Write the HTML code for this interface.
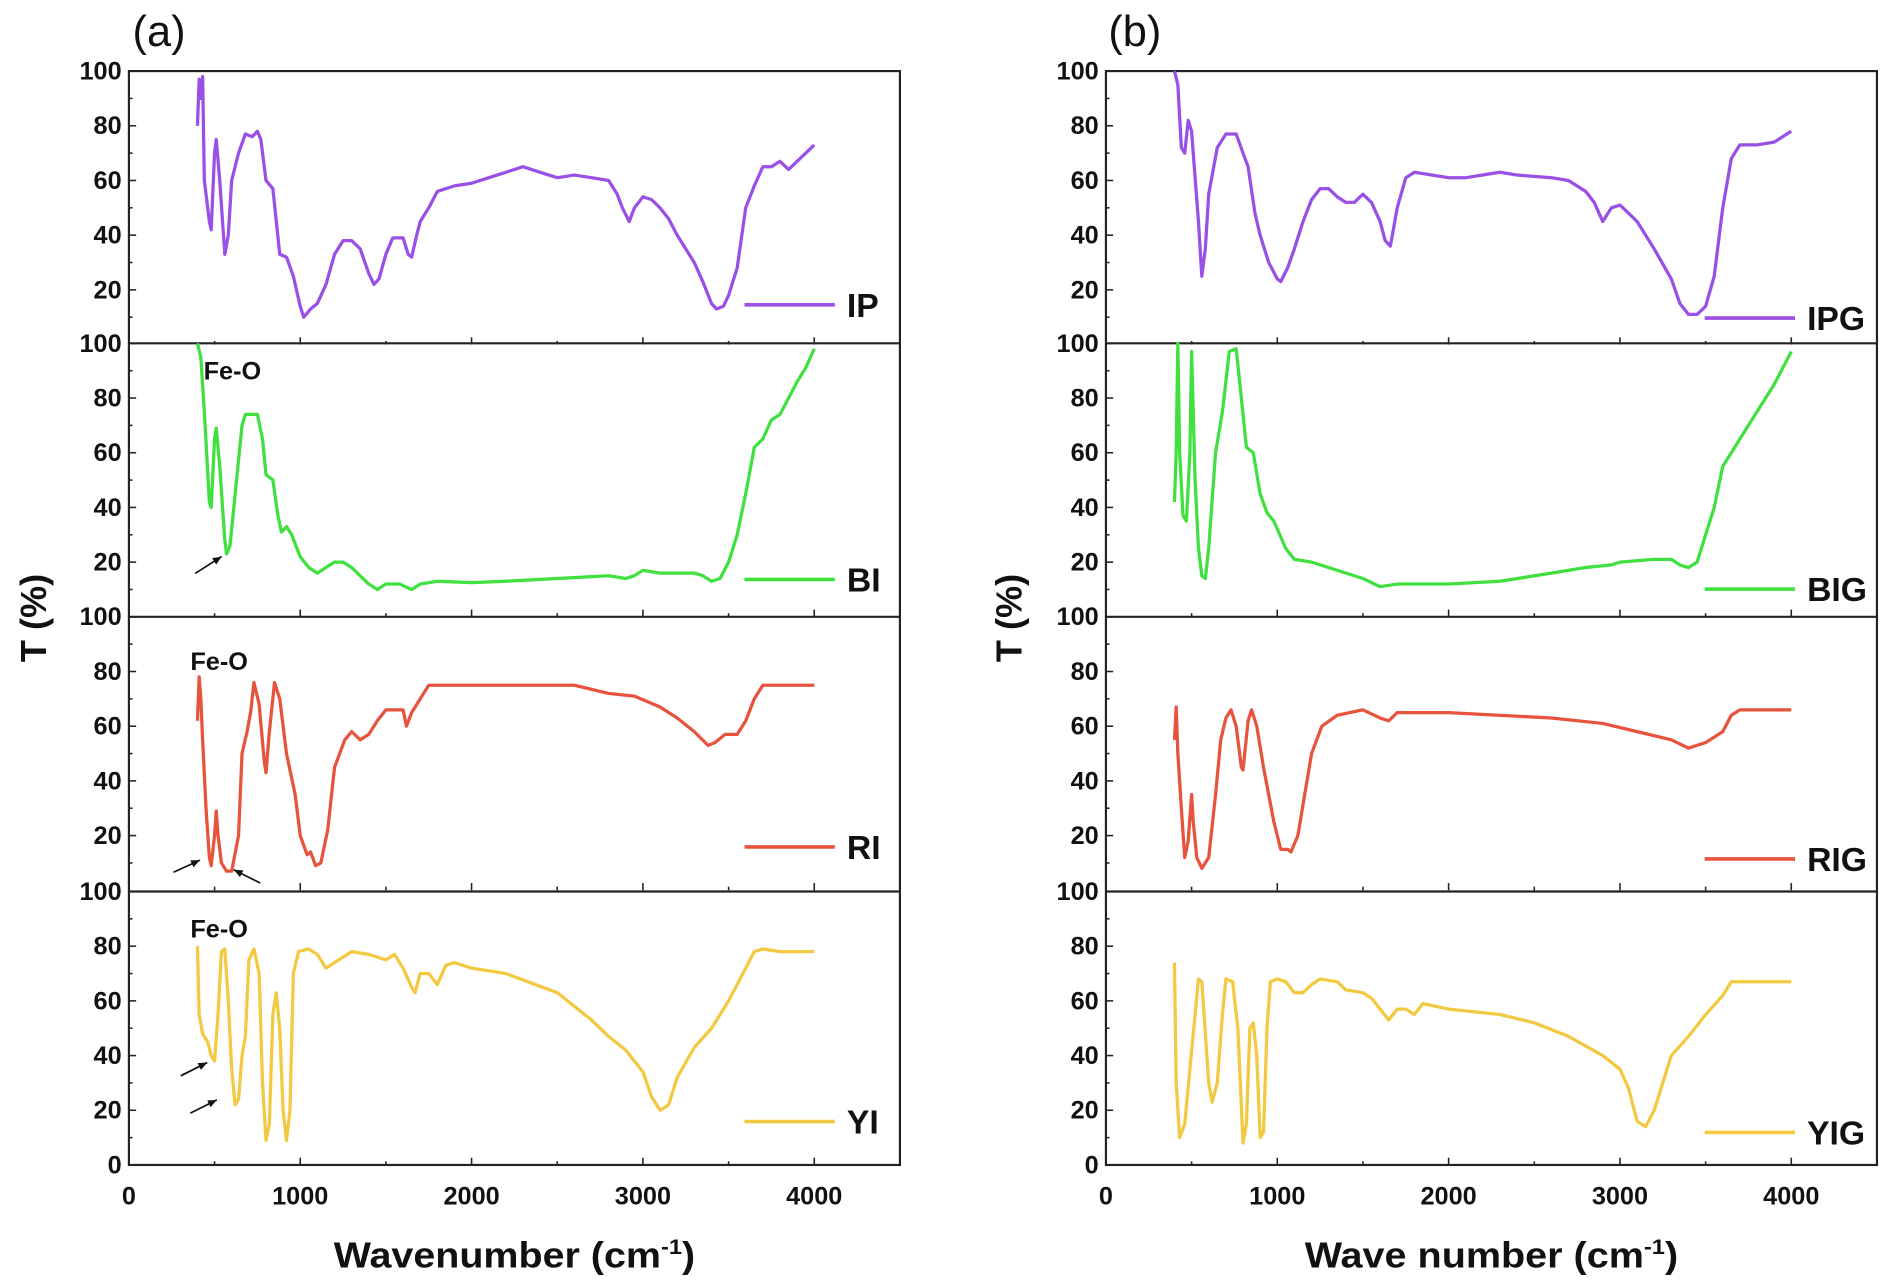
<!DOCTYPE html>
<html><head><meta charset="utf-8"><style>
html,body{margin:0;padding:0;background:#fff}
svg{display:block}
text{font-family:"Liberation Sans",Arial,sans-serif}
.t{font-size:21px;font-weight:bold;fill:#111}
</style></head><body>
<svg id="s" width="1889" height="1287" viewBox="0 0 1568 1068.3" preserveAspectRatio="none" xmlns="http://www.w3.org/2000/svg">
<rect width="1568" height="1068.3" fill="#fff"/>
<g id="g"></g>
</svg>
<script>
var NS="http://www.w3.org/2000/svg",g=document.getElementById('g');
function el(n,a,t){var e=document.createElementNS(NS,n);for(var k in a)e.setAttribute(k,a[k]);if(t!==undefined)e.textContent=t;g.appendChild(e);return e;}
var tops=[59,285,512,740],B=967,H=(B-59)/4;
var P=[{L:107,R:747},{L:918,R:1558}];
function X(p,w){return P[p].L+w*(P[p].R-P[p].L)/4500;}
function Y(i,t){return tops[i]+(100-t)/100*H;}
var D=[
[[400,80],[410,97],[420,90],[430,98],[440,60],[470,45],[480,42],[500,70],[510,75],[530,60],[560,33],[580,40],[600,60],[640,70],[680,77],[720,76],[750,78],[770,75],[800,60],[840,57],[880,33],[920,32],[960,25],[1000,14],[1020,10],[1060,13],[1100,15],[1150,22],[1200,33],[1250,38],[1300,38],[1350,35],[1400,26],[1430,22],[1460,24],[1500,33],[1540,39],[1600,39],[1630,33],[1650,32],[1680,40],[1700,45],[1750,50],[1800,56],[1900,58],[2000,59],[2100,61],[2200,63],[2300,65],[2400,63],[2500,61],[2600,62],[2700,61],[2800,60],[2850,55],[2880,50],[2920,45],[2950,50],[3000,54],[3050,53],[3100,50],[3150,46],[3200,40],[3300,30],[3350,23],[3400,15],[3430,13],[3470,14],[3500,18],[3550,28],[3600,50],[3650,58],[3700,65],[3750,65],[3800,67],[3850,64],[3900,67],[4000,73]],
[[400,100],[420,95],[440,75],[470,42],[480,40],[500,65],[510,69],[530,55],[560,28],[570,23],[590,26],[620,45],[660,70],[680,74],[750,74],[780,65],[800,52],[840,50],[870,37],[890,31],[920,33],[950,30],[1000,22],[1050,18],[1100,16],[1150,18],[1200,20],[1250,20],[1300,18],[1400,12],[1450,10],[1500,12],[1580,12],[1650,10],[1700,12],[1800,13],[2000,12.5],[2200,13],[2500,14],[2800,15],[2900,14],[2950,15],[3000,17],[3100,16],[3300,16],[3350,15],[3400,13],[3450,14],[3500,20],[3550,30],[3600,45],[3650,62],[3700,65],[3750,72],[3800,74],[3850,80],[3900,86],[3950,91],[4000,98]],
[[400,62],[410,78],[420,70],[430,55],[450,30],[470,12],[480,9],[500,20],[510,29],[520,20],[540,10],[570,7],[600,7],[640,20],[660,50],[690,58],[710,65],[730,76],[760,68],[790,47],[800,43],[820,58],[850,76],[880,70],[920,50],[970,35],[1000,20],[1040,13],[1060,14],[1090,9],[1120,10],[1160,22],[1200,45],[1260,55],[1300,58],[1350,55],[1400,57],[1450,62],[1500,66],[1600,66],[1620,60],[1650,65],[1700,70],[1750,75],[1850,75],[2000,75],[2600,75],[2800,72],[2950,71],[3100,67],[3200,63],[3300,58],[3380,53],[3420,54],[3480,57],[3550,57],[3600,62],[3650,70],[3700,75],[4000,75]],
[[400,80],[410,55],[430,48],[460,45],[480,40],[500,38],[520,55],[540,78],[560,79],[580,60],[600,35],[620,22],[640,24],[660,40],[680,47],[700,75],[730,79],[760,70],[780,30],[800,9],[820,15],[840,55],[860,63],[880,50],[900,20],[920,9],[940,20],[960,70],[990,78],[1050,79],[1100,77],[1150,72],[1200,74],[1300,78],[1400,77],[1500,75],[1550,77],[1600,72],[1650,65],[1670,63],[1700,70],[1750,70],[1800,66],[1850,73],[1900,74],[2000,72],[2200,70],[2500,63],[2700,53],[2800,47],[2900,42],[3000,34],[3050,25],[3100,20],[3150,22],[3200,32],[3300,43],[3400,50],[3500,60],[3600,72],[3650,78],[3700,79],[3800,78],[4000,78]],
[[400,100],[420,95],[440,72],[460,70],[480,82],[500,78],[540,45],[560,25],[580,35],[600,55],[650,72],[700,77],[760,77],[800,70],[830,65],[870,48],[900,40],[950,30],[1000,24],[1020,23],[1060,28],[1100,35],[1150,45],[1200,53],[1250,57],[1300,57],[1350,54],[1400,52],[1450,52],[1500,55],[1550,52],[1600,45],[1630,38],[1660,36],[1700,50],[1750,61],[1800,63],[2000,61],[2100,61],[2300,63],[2400,62],[2600,61],[2700,60],[2800,56],[2850,52],[2900,45],[2950,50],[3000,51],[3050,48],[3100,45],[3200,35],[3300,24],[3350,15],[3400,11],[3450,11],[3500,14],[3550,25],[3600,50],[3650,68],[3700,73],[3800,73],[3900,74],[4000,78]],
[[400,42],[410,60],[420,100],[430,60],[450,37],[470,35],[490,60],[500,97],[520,50],[540,25],[560,15],[580,14],[600,25],[640,60],[680,75],[720,97],[760,98],[790,80],[820,62],[860,60],[900,45],[940,38],[980,35],[1050,25],[1100,21],[1200,20],[1300,18],[1500,14],[1600,11],[1700,12],[2000,12],[2300,13],[2600,16],[2800,18],[2950,19],[3000,20],[3200,21],[3300,21],[3350,19],[3400,18],[3450,20],[3500,30],[3550,40],[3600,55],[3650,60],[3700,65],[3800,75],[3900,85],[4000,97]],
[[400,55],[410,67],[420,50],[440,30],[460,12],[480,18],[500,35],[510,25],[530,12],[560,8],[600,12],[640,35],[670,55],[700,63],[730,66],[760,60],[790,45],[800,44],[830,62],[850,66],[880,60],[920,45],[980,25],[1020,15],[1060,15],[1080,14],[1120,20],[1160,35],[1200,50],[1260,60],[1350,64],[1500,66],[1600,63],[1650,62],[1700,65],[2000,65],[2600,63],[2900,61],[3100,58],[3300,55],[3400,52],[3500,54],[3600,58],[3650,64],[3700,66],[4000,66]],
[[400,74],[410,30],[430,10],[460,15],[490,35],[520,55],[540,68],[560,67],[600,30],[620,23],[650,30],[680,55],[700,68],[740,67],[770,50],[800,8],[820,15],[840,50],[860,52],[880,40],[900,10],[920,12],[940,50],[960,67],[1000,68],[1050,67],[1100,63],[1150,63],[1200,66],[1250,68],[1350,67],[1400,64],[1500,63],[1550,61],[1600,57],[1650,53],[1700,57],[1750,57],[1800,55],[1850,59],[2000,57],[2300,55],[2500,52],[2700,47],[2900,40],[3000,35],[3050,28],[3100,16],[3150,14],[3200,20],[3250,30],[3300,40],[3400,47],[3500,55],[3600,62],[3650,67],[4000,67]]
];
var cols=['#9a4fe6','#3fe03f','#e8533d','#f2c940'];
var names=[['IP','BI','RI','YI'],['IPG','BIG','RIG','YIG']];
var legY=[[253,481,703,931],[264,489,713,940]];
for(var p=0;p<2;p++){
 var L=P[p].L,R=P[p].R;
 el('rect',{x:L,y:59,width:R-L,height:B-59,fill:'none',stroke:'#222','stroke-width':1.8});
 for(var i=0;i<4;i++){
  if(i>0)el('line',{x1:L,y1:tops[i],x2:R,y2:tops[i],stroke:'#222','stroke-width':1.8});
  var bot=tops[i]+H;
  for(var w=0;w<=4500;w+=500){var x=X(p,w);el('line',{x1:x,y1:bot,x2:x,y2:bot-(w%1000?3:6),stroke:'#222','stroke-width':1.3});}
  for(var t=10;t<=100;t+=10){var y=Y(i,t);el('line',{x1:L,y1:y,x2:L+(t%20?3:6),y2:y,stroke:'#222','stroke-width':1.3});}
  var vals=i==3?[0,20,40,60,80,100]:[20,40,60,80,100];
  vals.forEach(function(v){el('text',{x:L-6,y:Y(i,v)+7,'text-anchor':'end','class':'t'},String(v));});
  var pts=D[p*4+i].map(function(d){return X(p,d[0]).toFixed(1)+','+Y(i,d[1]).toFixed(1);}).join(' ');
  el('polyline',{points:pts,fill:'none',stroke:cols[i],'stroke-width':2.7,'stroke-linejoin':'round'});
  var lx=p==0?618:1415;
  el('line',{x1:lx,y1:legY[p][i],x2:lx+75,y2:legY[p][i],stroke:cols[i],'stroke-width':3});
  el('text',{x:lx+85,y:legY[p][i]+10,style:'font-size:28px;font-weight:bold;fill:#111'},names[p][i]);
 }
 [0,1000,2000,3000,4000].forEach(function(w){el('text',{x:X(p,w),y:1000,'text-anchor':'middle','class':'t'},String(w));});
 el('text',{x:p==0?110:920,y:38,style:'font-size:36px;fill:#111'},p==0?'(a)':'(b)');
 var xl=el('text',{x:p==0?427:1238,y:1052,'text-anchor':'middle',textLength:p==0?300:310,lengthAdjust:'spacingAndGlyphs',style:'font-size:30px;font-weight:bold;fill:#111'});
 xl.innerHTML=(p==0?'Wavenumber (cm':'Wave number (cm')+'<tspan dy="-11" font-size="18">-1</tspan><tspan dy="11">)</tspan>';
 el('text',{x:0,y:0,'text-anchor':'middle',transform:'translate('+(p==0?38:848)+',513) rotate(-90)',style:'font-size:30px;font-weight:bold;fill:#111'},'T (%)');
}
el('text',{x:169,y:315,'class':'t'},'Fe-O');
el('text',{x:158,y:556,'class':'t'},'Fe-O');
el('text',{x:158,y:778,'class':'t'},'Fe-O');
function arrow(x1,y1,x2,y2){el('line',{x1:x1,y1:y1,x2:x2,y2:y2,stroke:'#111','stroke-width':1.4});
 var a=Math.atan2(y2-y1,x2-x1),s=8;
 el('polygon',{points:x2+','+y2+' '+(x2-s*Math.cos(a-0.4))+','+(y2-s*Math.sin(a-0.4))+' '+(x2-s*Math.cos(a+0.4))+','+(y2-s*Math.sin(a+0.4)),fill:'#111'});}
arrow(162,476,184,462);
arrow(144,724,166,714);
arrow(216,733,194,722);
arrow(150,893,172,882);
arrow(158,924,180,913);
</script>
</body></html>
